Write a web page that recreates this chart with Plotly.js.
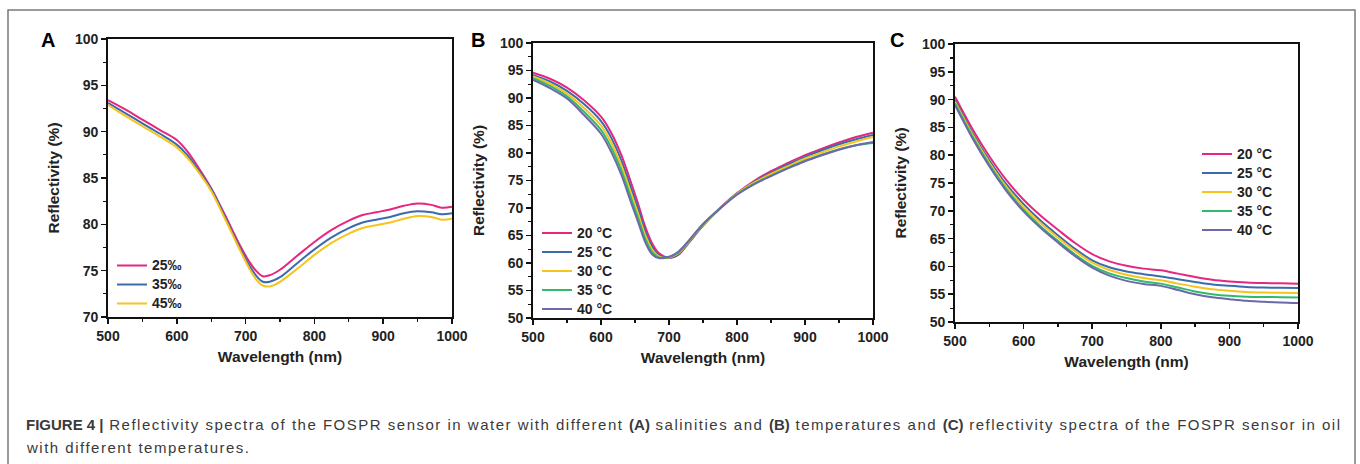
<!DOCTYPE html>
<html>
<head>
<meta charset="utf-8">
<script src="https://cdn.plot.ly/plotly-3.0.1.min.js"></script>
<style>html,body{margin:0;padding:0;background:#fff;}#chart{width:1360px;height:464px;}</style>
</head>
<body>
<div id="chart"></div>
<script>
// ---------- Data ----------
const wlA = [500, 525, 550, 575, 600, 615, 630, 650, 670, 690, 705, 715, 725, 735, 750, 775, 800, 825, 850, 870, 890, 910, 930, 950, 970, 985, 1000];
const salinityLabels = ["25‰", "35‰", "45‰"];
const sal25 = [93.4, 92.4, 91.3, 90.2, 89.1, 87.9, 86.3, 83.9, 81.0, 78.0, 76.0, 75.0, 74.4, 74.5, 75.1, 76.6, 78.1, 79.4, 80.4, 81.0, 81.3, 81.6, 82.0, 82.25, 82.1, 81.8, 81.9];
const sal35 = [93.1, 92.0, 90.9, 89.8, 88.6, 87.5, 86.0, 83.8, 80.8, 77.7, 75.6, 74.5, 73.8, 73.8, 74.3, 75.8, 77.3, 78.6, 79.6, 80.2, 80.5, 80.8, 81.2, 81.4, 81.3, 81.1, 81.2];
const sal45 = [92.9, 91.7, 90.6, 89.5, 88.3, 87.2, 85.8, 83.6, 80.6, 77.5, 75.3, 74.1, 73.4, 73.3, 73.8, 75.2, 76.7, 78.0, 79.0, 79.6, 79.9, 80.2, 80.6, 80.9, 80.8, 80.5, 80.6];

const wlB = [500, 525, 550, 575, 600, 615, 630, 645, 655, 665, 675, 685, 695, 705, 715, 730, 750, 775, 800, 825, 850, 875, 900, 925, 950, 975, 1000];
const tempLabels = ["20 °C", "25 °C", "30 °C", "35 °C", "40 °C"];
const waterT20 = [94.6, 93.5, 91.9, 89.6, 86.6, 83.7, 79.6, 74.3, 70.6, 66.6, 63.6, 61.8, 61.1, 61.0, 61.6, 63.8, 66.8, 70.0, 72.7, 74.9, 76.7, 78.2, 79.6, 80.8, 81.9, 82.9, 83.7];
const waterT25 = [94.2, 93.0, 91.3, 88.9, 85.8, 82.8, 78.6, 73.3, 69.7, 65.8, 63.0, 61.4, 61.0, 61.1, 61.7, 63.9, 66.8, 69.9, 72.6, 74.7, 76.4, 77.9, 79.3, 80.5, 81.6, 82.5, 83.3];
const waterT30 = [93.9, 92.6, 90.8, 88.2, 85.0, 81.9, 77.7, 72.4, 68.8, 65.1, 62.5, 61.2, 60.9, 61.2, 61.9, 64.0, 66.9, 69.9, 72.6, 74.6, 76.2, 77.6, 79.0, 80.1, 81.2, 82.1, 82.9];
const waterT35 = [93.6, 92.2, 90.3, 87.5, 84.2, 81.0, 76.8, 71.5, 68.0, 64.4, 62.0, 61.0, 60.9, 61.3, 62.0, 64.1, 67.0, 69.9, 72.5, 74.4, 75.9, 77.3, 78.6, 79.7, 80.7, 81.4, 81.8];
const waterT40 = [93.3, 91.8, 89.9, 86.9, 83.5, 80.2, 76.0, 70.7, 67.3, 63.8, 61.6, 60.9, 61.0, 61.4, 62.2, 64.2, 67.1, 69.9, 72.4, 74.3, 75.8, 77.2, 78.5, 79.6, 80.6, 81.4, 82.0];

const wlC = [500, 525, 550, 575, 600, 625, 650, 675, 700, 725, 750, 775, 800, 825, 850, 875, 900, 925, 950, 975, 1000];
const oilT20 = [90.5, 84.8, 79.8, 75.5, 72.0, 69.1, 66.6, 64.2, 62.2, 60.9, 60.1, 59.6, 59.3, 58.7, 58.1, 57.6, 57.3, 57.1, 57.0, 56.95, 56.9];
const oilT25 = [89.9, 84.15, 79.1, 74.75, 71.2, 68.2, 65.6, 63.15, 61.1, 59.85, 59.1, 58.6, 58.2, 57.7, 57.2, 56.75, 56.5, 56.3, 56.2, 56.15, 56.1];
const oilT30 = [89.6, 83.8, 78.7, 74.3, 70.7, 67.75, 65.2, 62.75, 60.7, 59.35, 58.5, 57.9, 57.5, 56.9, 56.35, 55.9, 55.6, 55.4, 55.3, 55.25, 55.2];
const oilT35 = [89.3, 83.45, 78.3, 73.85, 70.2, 67.2, 64.6, 62.15, 60.1, 58.75, 57.9, 57.3, 56.9, 56.2, 55.5, 55.0, 54.7, 54.55, 54.5, 54.45, 54.4];
const oilT40 = [89.0, 83.15, 78.0, 73.55, 69.9, 66.9, 64.3, 61.85, 59.8, 58.35, 57.4, 56.85, 56.5, 55.75, 55.0, 54.45, 54.1, 53.8, 53.65, 53.5, 53.4];

const xTicks = [500, 600, 700, 800, 900, 1000];
const yTicksA = [70, 75, 80, 85, 90, 95, 100];
const yTicksBC = [50, 55, 60, 65, 70, 75, 80, 85, 90, 95, 100];

// ---------- Styles ----------
const colors = ["#e6267f", "#3a6cad", "#f7c31d", "#2fba6c", "#6b69a8"];
const FONT = "Liberation Sans, Arial, Helvetica, sans-serif";

function mk(x, y, name, color, xa, ya, legend) {
  return {x: x, y: y, name: '<span style="font-size:14px">' + name + '</span>', type: "scatter", mode: "lines",
    line: {color: color, width: 2, shape: "spline", smoothing: 1},
    xaxis: xa, yaxis: ya, legend: legend, hoverinfo: "x+y"};
}

const traces = [
  mk(wlA, sal25, salinityLabels[0], colors[0], "x", "y", "legend"),
  mk(wlA, sal35, salinityLabels[1], colors[1], "x", "y", "legend"),
  mk(wlA, sal45, salinityLabels[2], colors[2], "x", "y", "legend"),
];
[waterT20, waterT25, waterT30, waterT35, waterT40].forEach((s, i) =>
  traces.push(mk(wlB, s, tempLabels[i], colors[i], "x2", "y2", "legend2")));
[oilT20, oilT25, oilT30, oilT35, oilT40].forEach((s, i) =>
  traces.push(mk(wlC, s, tempLabels[i], colors[i], "x3", "y3", "legend3")));

const W = 1360, H = 464;
const px = v => v / W;
const py = v => (H - v) / H;

function xaxis(l, r, anchor) {
  return {domain: [px(l), px(r)], range: [500, 1000], anchor: anchor,
    tickvals: xTicks, ticks: "outside", ticklen: 5, tickwidth: 1.5, tickcolor: "#111",
    minor: {dtick: 50, tick0: 500, ticks: "outside", ticklen: 3, tickwidth: 1.2, tickcolor: "#111"},
    showline: true, linecolor: "#111", linewidth: 1.8, mirror: true, showgrid: false, zeroline: false,
    tickfont: {family: FONT, size: 14, color: "#222", weight: "bold"},
    title: {text: "Wavelength (nm)", font: {family: FONT, size: 15.5, color: "#222", weight: "bold"}, standoff: 8},
    automargin: false, fixedrange: true};
}
function yaxis(t, b, anchor, rng, ticks) {
  return {domain: [py(b), py(t)], range: rng, anchor: anchor,
    tickvals: ticks, ticks: "outside", ticklen: 5, tickwidth: 1.5, tickcolor: "#111",
    minor: {dtick: 2.5, tick0: 50, ticks: "outside", ticklen: 3, tickwidth: 1.2, tickcolor: "#111"},
    showline: true, linecolor: "#111", linewidth: 1.8, mirror: true, showgrid: false, zeroline: false,
    tickfont: {family: FONT, size: 14, color: "#222", weight: "bold"},
    title: {text: "Reflectivity (%)", font: {family: FONT, size: 15.5, color: "#222", weight: "bold"}, standoff: 12},
    automargin: false, fixedrange: true};
}
function legend(l, t, fs) {
  return {x: px(l), y: py(t), xanchor: "left", yanchor: "top", bgcolor: "rgba(0,0,0,0)",
    font: {family: FONT, size: fs, color: "#222", weight: "bold"}, tracegroupgap: 0, itemwidth: 30};
}

const capFont = {family: FONT, size: 15, color: "#3a3a3a"};
const sp = s => '<span style="letter-spacing:1.5px">' + s + '</span>';
const layout = {
  width: W, height: H, margin: {l: 0, r: 0, t: 0, b: 0},
  paper_bgcolor: "#fff", plot_bgcolor: "#fff", showlegend: true,
  xaxis: xaxis(108, 452, "y"), yaxis: yaxis(39, 317, "x", [70, 100], yTicksA),
  xaxis2: xaxis(533, 873, "y2"), yaxis2: yaxis(43, 318, "x2", [50, 100], yTicksBC),
  xaxis3: xaxis(955, 1298, "y3"), yaxis3: yaxis(44, 322, "x3", [50, 100], yTicksBC),
  legend: legend(112, 251, 12), legend2: legend(537, 218.5, 11.5), legend3: legend(1197, 139.5, 11.5),
  shapes: [{type: "rect", xref: "paper", yref: "paper", x0: px(8), x1: px(1355), y0: -0.2, y1: py(10),
    line: {color: "#7a7a7a", width: 1.5}, layer: "below"}],
  annotations: [
    {text: "A", x: px(48), y: py(40), xref: "paper", yref: "paper", showarrow: false, xanchor: "center", yanchor: "middle",
     font: {family: FONT, size: 20, color: "#000", weight: "bold"}},
    {text: "B", x: px(478), y: py(40), xref: "paper", yref: "paper", showarrow: false, xanchor: "center", yanchor: "middle",
     font: {family: FONT, size: 20, color: "#000", weight: "bold"}},
    {text: "C", x: px(897), y: py(40), xref: "paper", yref: "paper", showarrow: false, xanchor: "center", yanchor: "middle",
     font: {family: FONT, size: 20, color: "#000", weight: "bold"}},
    {text: "<b>FIGURE 4 |</b>" + sp(" Reflectivity spectra of the FOSPR sensor in water with different ") + "<b>(A)</b>" + sp(" salinities and ") + "<b>(B)</b>" + sp(" temperatures and ") + "<b>(C)</b>" + sp(" reflectivity spectra of the FOSPR sensor in oil"),
     x: px(24), y: py(424), xref: "paper", yref: "paper", showarrow: false, xanchor: "left", yanchor: "middle", font: capFont},
    {text: sp("with different temperatures."),
     x: px(24), y: py(447), xref: "paper", yref: "paper", showarrow: false, xanchor: "left", yanchor: "middle", font: capFont}
  ]
};

Plotly.newPlot("chart", traces, layout, {displayModeBar: false, staticPlot: true});
</script>
</body>
</html>
